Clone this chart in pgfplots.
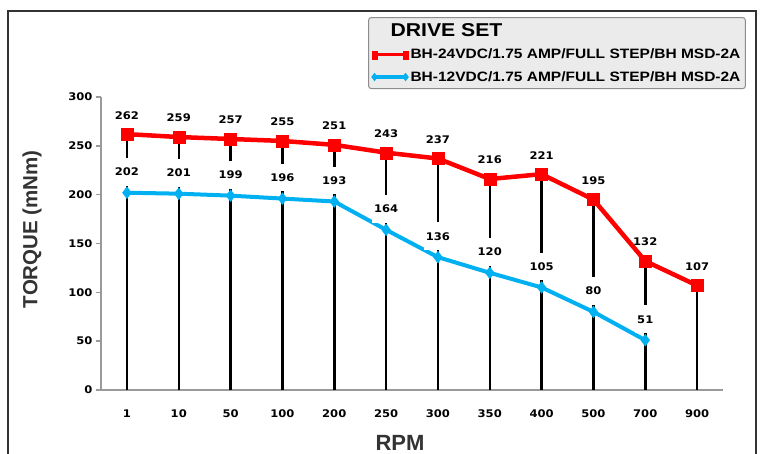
\documentclass[border=0pt]{standalone}
\usepackage{pgfplots}
\pgfplotsset{compat=1.18}
\usepackage{pgfplotstable}
\usepackage{fontspec}
\setmainfont{Liberation Sans}
\newfontfamily\legfont[FakeStretch=1.14]{Liberation Sans}
\newfontfamily\numfont[FakeStretch=1.1]{DejaVu Sans}
\definecolor{cred}{HTML}{FF0000}
\definecolor{cblue}{HTML}{00B0F0}
\definecolor{framegray}{HTML}{333333}
\definecolor{axgray}{HTML}{9A9A9A}
\definecolor{leggray}{HTML}{EBEBEB}
\definecolor{legborder}{HTML}{8C8C8C}
\definecolor{txtgray}{HTML}{333333}

\pgfplotstableread{
x red
0 262
1 259
2 257
3 255
4 251
5 243
6 237
7 216
8 221
9 195
10 132
11 107
}\redtab
\pgfplotstableread{
x blue
0 202
1 201
2 199
3 196
4 193
5 164
6 136
7 120
8 105
9 80
10 51
}\bluetab

\begin{document}
\begin{tikzpicture}[x=1pt,y=1pt]
\useasboundingbox (0,0) rectangle (760,454);
\draw[framegray, line width=2.5pt] (8,-10) -- (8,443) -- (756,443) -- (756,-10);
\begin{axis}[
 at={(101pt,64pt)}, anchor=south west,
 scale only axis, width=622pt, height=293pt,
 xmin=-0.5, xmax=11.5, ymin=0, ymax=300,
 axis x line*=bottom, axis y line*=left,
 axis line style={axgray, line width=2pt, -},
 xtick={0,...,11},
 xticklabels={1,10,50,100,200,250,300,350,400,500,700,900},
 ytick={0,50,...,300},
 major x tick style={draw=none},
 major y tick style={axgray, line width=1.5pt},
 tick align=outside, major tick length=5pt,
 /pgf/number format/assume math mode=true,
 ticklabel style={font=\numfont\bfseries\fontsize{10.5}{12}\selectfont, text=black},
 xticklabel style={yshift=-11pt},
 ylabel={TORQUE (mNm)},
 ylabel style={at={(axis description cs:-0.111,0.549)}, anchor=center, font=\bfseries\fontsize{20.5}{22}\selectfont, text=txtgray},
 xlabel={RPM},
 xlabel style={at={(axis description cs:0.4807,-0.181)}, anchor=center, font=\bfseries\fontsize{22}{24}\selectfont, text=txtgray},
 clip=false,
 legend style={at={(0.4293,1.273)}, anchor=north west, fill=leggray, draw=legborder, line width=1pt, rounded corners=3pt,
   font=\legfont\bfseries\fontsize{13.6}{15}\selectfont, text=black, inner xsep=3pt, inner ysep=4pt, row sep=7pt,
   /tikz/every even column/.append style={column sep=6pt}},
 legend cell align=left,
 legend image code/.code={\draw[#1, mark repeat=1, mark phase=1, line width=3.5pt, mark size=4pt] plot coordinates {(0pt,0pt) (31pt,0pt)};},
]
\addlegendimage{empty legend}
\addlegendentry{\hspace*{-20pt}\fontsize{18.6}{20}\selectfont DRIVE SET}
\addlegendimage{cred, mark=square*, mark options={line width=0.3pt, xscale=0.7}}
\addlegendentry{BH-24VDC/1.75 AMP/FULL STEP/BH MSD-2A}
\addlegendimage{cblue, mark=diamond*, mark options={line width=0.3pt}}
\addlegendentry{BH-12VDC/1.75 AMP/FULL STEP/BH MSD-2A}

\addplot[cblue, line width=4pt, mark=diamond*, mark size=6pt, mark options={line width=0.3pt}, forget plot] table[x=x,y=blue]{\bluetab};
\addplot[ycomb, black, line width=2.5pt, forget plot] table[x=x,y=red]{\redtab};
\addplot[cred, line width=4.5pt, mark=square*, mark size=6pt, mark options={line width=0.3pt}, forget plot] table[x=x,y=red]{\redtab};

\addplot[draw=none, no marks, forget plot, nodes near coords,
  every node near coord/.append style={anchor=center, yshift=21pt, fill=white, inner xsep=2pt, inner ysep=10pt, text depth=0pt, font=\numfont\bfseries\fontsize{10.5}{12}\selectfont, text=black}]
  table[x=x,y=blue]{\bluetab};
\addplot[draw=none, no marks, forget plot, nodes near coords,
  every node near coord/.append style={anchor=center, yshift=19pt, inner xsep=2pt, inner ysep=2pt, text depth=0pt, font=\numfont\bfseries\fontsize{10.5}{12}\selectfont, text=black}]
  table[x=x,y=red]{\redtab};
\end{axis}
\end{tikzpicture}
\end{document}
